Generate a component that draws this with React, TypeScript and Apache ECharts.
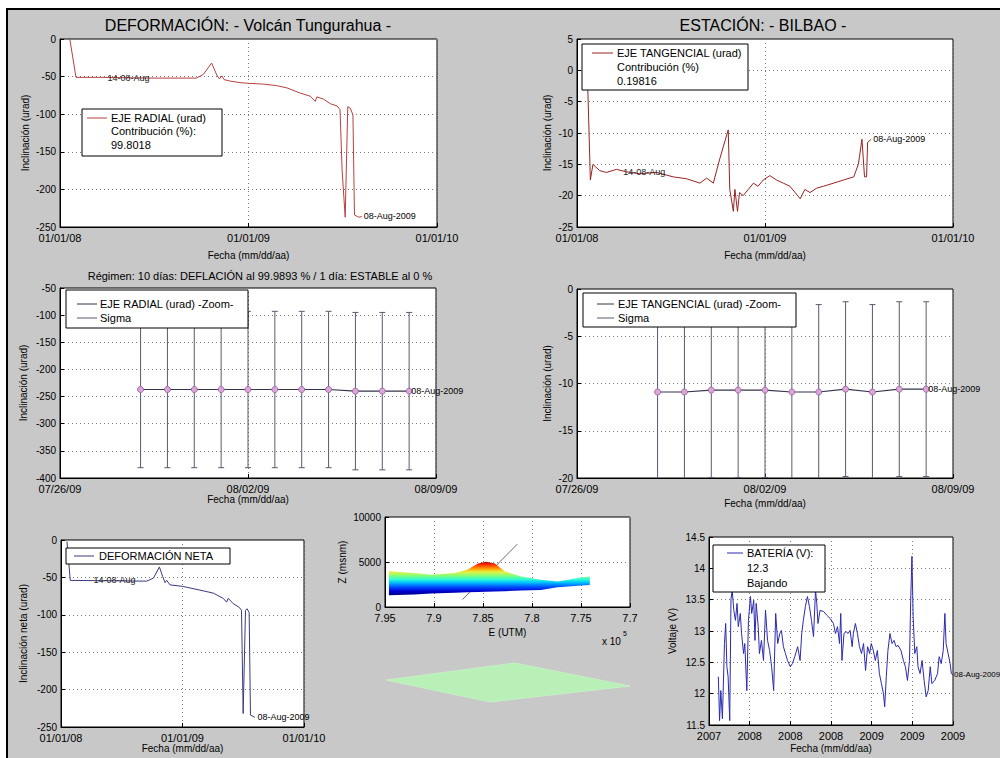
import React, { useEffect, useRef } from "react";
import * as echarts from "echarts";

const FONT = "'Liberation Sans', Arial, Helvetica, sans-serif";
const DAY = 86400000;

// ---------- Top-left: EJE RADIAL (urad) ----------
const radialDates = ["2008-01-20","2008-02-01","2008-03-19","2008-06-24","2008-09-22","2008-10-05","2008-10-21","2008-10-31","2008-11-05","2008-11-10","2008-11-14","2008-11-26","2008-12-15","2009-01-01","2009-01-30","2009-02-24","2009-03-16","2009-04-11","2009-04-30","2009-05-10","2009-05-13","2009-05-26","2009-06-08","2009-06-21","2009-06-27","2009-07-01","2009-07-07","2009-07-12","2009-07-17","2009-07-22","2009-07-25","2009-08-02","2009-08-08"];
const radialValues = [0,-51,-51,-52,-52,-47,-32,-48,-53,-49,-54,-56,-58,-59,-60,-62,-65,-72,-76,-83,-77,-80,-86,-89,-94,-174,-237,-90,-92,-101,-234,-237,-236];

// ---------- Top-right: EJE TANGENCIAL (urad) ----------
const tangDates = ["2008-01-20","2008-01-27","2008-02-01","2008-02-14","2008-02-27","2008-03-18","2008-04-06","2008-05-02","2008-06-04","2008-07-06","2008-08-01","2008-08-27","2008-09-09","2008-09-22","2008-10-05","2008-10-21","2008-10-24","2008-10-28","2008-10-31","2008-11-03","2008-11-08","2008-11-12","2008-11-19","2008-11-29","2008-12-09","2008-12-18","2008-12-28","2009-01-10","2009-01-23","2009-02-05","2009-02-18","2009-02-28","2009-03-10","2009-03-19","2009-03-29","2009-04-11","2009-04-24","2009-05-14","2009-06-02","2009-06-22","2009-07-01","2009-07-08","2009-07-13","2009-07-17","2009-07-19","2009-07-26"];
const tangValues = [3,-17.5,-15,-16,-16.3,-15.8,-16.2,-16.5,-16.3,-17,-17.3,-18,-17.2,-18,-14,-9.5,-19,-21,-22.5,-19,-22.5,-19.5,-20,-19,-18,-18.5,-17.5,-16.8,-17.5,-18,-18.5,-19.5,-20.5,-19,-19.5,-18.8,-18.5,-18,-17.5,-17,-15,-11,-17,-17,-11.5,-11];

// ---------- Middle: zoom (last 11 days) ----------
const zoomDates = ["2009-07-29","2009-07-30","2009-07-31","2009-08-01","2009-08-02","2009-08-03","2009-08-04","2009-08-05","2009-08-06","2009-08-07","2009-08-08"];
const radialZoomValues = [-237,-237,-237,-237,-237,-237,-237,-237,-240,-240,-240];
const radialZoomSigma = [144,144,144,144,144,144,144,144,145,145,145];
const tangZoomValues = [-10.9,-10.9,-10.7,-10.7,-10.7,-10.9,-10.9,-10.6,-10.9,-10.6,-10.6];
const tangZoomSigma = [9.25,9.25,9.25,9.25,9.25,9.25,9.25,9.25,9.25,9.25,9.25];

// ---------- Bottom-left: DEFORMACIÓN NETA ----------
const netDates = ["2008-01-19","2008-01-29","2008-09-15","2008-10-05","2008-10-23","2008-11-02","2008-11-09","2008-11-14","2008-11-24","2009-01-01","2009-02-22","2009-04-03","2009-05-03","2009-05-13","2009-05-18","2009-06-02","2009-06-20","2009-06-27","2009-07-02","2009-07-09","2009-07-14","2009-07-20","2009-07-24","2009-08-06","2009-08-08"];
const netValues = [-2,-54,-55,-51,-36,-49,-57,-54,-60,-62,-67,-71,-78,-83,-78,-85,-90,-94,-232,-94,-92,-97,-234,-237,-237];

// ---------- Bottom-right: BATERÍA (V), days since 2007-12-17 ----------
const battDays = [23,26,29,33,38,41,44,47,51,54,57,61,65,69,72,77,80,85,88,93,97,102,105,110,113,116,121,124,129,134,139,144,149,154,159,164,169,174,178,183,188,193,200,205,211,218,224,228,232,237,242,247,252,257,262,265,268,273,282,290,298,306,311,316,321,324,327,332,337,342,347,352,355,360,365,370,375,380,385,390,395,399,404,409,414,419,424,429,432,436,440,445,450,455,460,465,472,478,483,488,493,496,499,502,506,511,514,519,524,529,534,539,544,548,555,562,566,571,576,580,583,588,593,596,600];
const battVolts = [12.27,11.57,12.05,11.6,12.8,13.12,12.43,12.27,11.57,13.5,13.65,13.33,13.17,13.44,13.07,13.28,12.96,12.64,12.8,12.05,13.17,13.55,13.28,13.49,12.85,13.44,13.07,12.64,12.85,12.53,13.33,12.85,12.69,12.43,12.05,13.28,12.8,12.96,13.01,12.75,12.64,12.53,12.43,12.48,12.59,12.75,12.53,12.96,13.17,13.39,13.55,13.39,13.17,12.91,13.65,13.44,13.12,13.33,13.31,13.25,13.2,13.12,12.96,13.07,12.8,13.28,12.53,12.96,12.99,12.96,13.01,12.75,12.96,13.12,12.96,12.75,12.64,12.8,12.37,12.75,12.64,12.8,12.69,12.53,12.69,12.32,12.16,12.0,11.79,12.27,12.69,12.96,12.8,12.85,12.75,12.77,12.69,12.53,12.43,12.21,12.53,13.49,14.19,13.23,12.64,12.75,12.43,12.32,12.53,12.21,11.95,12.05,12.43,12.16,12.21,12.32,12.59,12.48,12.69,13.28,12.8,12.64,12.48,12.32,12.3];

// ---------- Centre: volcano profile (E in 10^5 UTM, Z in msnm) ----------
const surfE = [7.946,7.92,7.903,7.879,7.866,7.855,7.847,7.838,7.828,7.811,7.791,7.774,7.753,7.741];
const surfBottom = [1300,1400,1500,1580,1630,1670,1700,1730,1760,1830,1880,2190,2350,2450];
const surfTop = [3960,3770,3580,3770,4150,4830,5020,4830,3960,3400,3020,2830,3210,3400];
const trackE = [7.871,7.815];
const trackZ = [830,6980];

const baseMain = "2008-01-01";
const baseZoom = "2009-07-26";
const baseBatt = "2007-12-17";

function dayOf(base: string, d: string) {
  return (Date.parse(d) - Date.parse(base)) / DAY;
}
function pad(n: number) {
  return n < 10 ? "0" + n : String(n);
}
function mdy(base: string) {
  return (v: number) => {
    const t = new Date(Date.parse(base) + Math.round(v) * DAY);
    return pad(t.getUTCMonth() + 1) + "/" + pad(t.getUTCDate()) + "/" + pad(t.getUTCFullYear() % 100);
  };
}
function yearOf(base: string) {
  return (v: number) => String(new Date(Date.parse(base) + v * DAY).getUTCFullYear());
}

const axisCommon: any = {
  nameLocation: "middle",
  nameTextStyle: { fontSize: 10, fontFamily: FONT, color: "#000" },
  axisLine: { show: true, onZero: false, lineStyle: { color: "#000", width: 1 } },
  axisTick: { show: true, inside: true, length: 4, lineStyle: { color: "#000" } },
  splitLine: { show: true, lineStyle: { color: "#7a7a7a", type: [1, 3], width: 1 } },
};

function xAx(gridIndex: number, min: number, max: number, interval: number, formatter: any, name: string, nameGap: number, extra: any = {}) {
  return {
    type: "value", gridIndex, min, max, interval, name, nameGap, ...axisCommon,
    axisLabel: { fontSize: 11, fontFamily: FONT, color: "#000", margin: 5, formatter, showMinLabel: true, showMaxLabel: true, hideOverlap: false },
    ...extra,
  };
}
function yAx(gridIndex: number, min: number, max: number, interval: number, name: string, nameGap: number) {
  return {
    type: "value", gridIndex, min, max, interval, name, nameGap, nameRotate: 90, ...axisCommon,
    axisLabel: { fontSize: 10, fontFamily: FONT, color: "#000", margin: 4, formatter: (v: number) => String(v), showMinLabel: true, showMaxLabel: true, hideOverlap: false },
  };
}

const endLbl = (text: string, size = 9) => ({ show: true, formatter: text, fontSize: size, fontFamily: FONT, color: "#000", distance: 2 });
const markTxt = (coord: number[], text: string) => ({
  symbol: "circle", symbolSize: 1, silent: true, itemStyle: { color: "rgba(0,0,0,0)" },
  data: [{ coord, label: { show: true, position: "right", distance: 0, formatter: text, fontSize: 9, fontFamily: FONT, color: "#222" } }],
});

function lineSeries(i: number, color: string, data: number[][], extra: any = {}) {
  return { type: "line", xAxisIndex: i, yAxisIndex: i, data, showSymbol: false, symbol: "none", silent: true, lineStyle: { color, width: 1 }, itemStyle: { color }, ...extra };
}

function errSeries(i: number, data: number[][]) {
  return {
    type: "custom", xAxisIndex: i, yAxisIndex: i, data, clip: true, silent: true, z: 2,
    encode: { x: 0, y: 1 },
    renderItem: (params: any, api: any) => {
      const x = api.value(0), y = api.value(1), s = api.value(2);
      const p1 = api.coord([x, y + s]);
      const p2 = api.coord([x, y - s]);
      const st = { stroke: "#5a5a70", lineWidth: 1 };
      return {
        type: "group",
        children: [
          { type: "line", shape: { x1: p1[0], y1: p1[1], x2: p2[0], y2: p2[1] }, style: st },
          { type: "line", shape: { x1: p1[0] - 3, y1: p1[1], x2: p1[0] + 3, y2: p1[1] }, style: st },
          { type: "line", shape: { x1: p2[0] - 3, y1: p2[1], x2: p2[0] + 3, y2: p2[1] }, style: st },
        ],
      };
    },
  };
}

function legendGroup(box: number[], sx: number[], tx: number, rows: { text: string; y: number; color?: string }[]) {
  const children: any[] = [
    { type: "rect", shape: { x: box[0], y: box[1], width: box[2], height: box[3] }, style: { fill: "#fff", stroke: "#000", lineWidth: 1 }, z: 100 },
  ];
  rows.forEach((r) => {
    if (r.color) children.push({ type: "line", shape: { x1: sx[0], y1: r.y, x2: sx[1], y2: r.y }, style: { stroke: r.color, lineWidth: 1 }, z: 101 });
    children.push({ type: "text", x: tx, y: r.y, style: { text: r.text, fontSize: 11, fontFamily: FONT, fill: "#000", verticalAlign: "middle" }, z: 101 });
  });
  return children;
}

function buildOption() {
  const gridBase = { show: true, backgroundColor: "#fff", borderColor: "#000", borderWidth: 1, containLabel: false };
  const grid = [
    { left: 60, top: 39, width: 377, height: 188 },
    { left: 577, top: 39, width: 376, height: 188 },
    { left: 60, top: 288, width: 376, height: 190 },
    { left: 577, top: 289, width: 376, height: 189 },
    { left: 61, top: 540, width: 243, height: 187 },
    { left: 385, top: 517, width: 245, height: 90 },
    { left: 709, top: 537, width: 244, height: 188 },
  ].map((g) => ({ ...gridBase, ...g }));

  const fmtMain = mdy(baseMain);
  const fmtZoom = mdy(baseZoom);
  const xAxis = [
    xAx(0, 0, 731, 365.5, fmtMain, "Fecha (mm/dd/aa)", 23),
    xAx(1, 0, 731, 365.5, fmtMain, "Fecha (mm/dd/aa)", 23),
    xAx(2, 0, 14, 7, fmtZoom, "Fecha (mm/dd/aa)", 15),
    xAx(3, 0, 14, 7, fmtZoom, "Fecha (mm/dd/aa)", 20),
    xAx(4, 0, 731, 365.5, fmtMain, "Fecha (mm/dd/aa)", 16),
    xAx(5, 7.7, 7.95, 0.05, (v: number) => String(+v.toFixed(2)), "E (UTM)", 20, { inverse: true }),
    xAx(6, 0, 600, 100, yearOf(baseBatt), "Fecha (mm/dd/aa)", 18),
  ];
  const yAxis = [
    yAx(0, -250, 0, 50, "Inclinación (urad)", 30),
    yAx(1, -25, 5, 5, "Inclinación (urad)", 25),
    yAx(2, -400, -50, 50, "Inclinación (urad)", 32),
    yAx(3, -20, 0, 5, "Inclinación (urad)", 25),
    yAx(4, -250, 0, 50, "Inclinación neta (urad)", 33),
    yAx(5, 0, 10000, 5000, "Z (msnm)", 38),
    yAx(6, 11.5, 14.5, 0.5, "Voltaje (V)", 32),
  ];

  const radialData = radialDates.map((d, i) => [dayOf(baseMain, d), radialValues[i]]);
  const tangData = tangDates.map((d, i) => [dayOf(baseMain, d), tangValues[i]]);
  const netData = netDates.map((d, i) => [dayOf(baseMain, d), netValues[i]]);
  const radZoom = zoomDates.map((d, i) => [dayOf(baseZoom, d), radialZoomValues[i], radialZoomSigma[i]]);
  const tanZoom = zoomDates.map((d, i) => [dayOf(baseZoom, d), tangZoomValues[i], tangZoomSigma[i]]);
  const battData = battDays.map((d, i) => [d, battVolts[i]]);
  const surfData = surfE.map((e, i) => [e, surfBottom[i], surfTop[i]]);
  const trackData = trackE.map((e, i) => [e, trackZ[i]]);

  const zoomLine = (i: number, data: number[][]) => ({
    type: "line", xAxisIndex: i, yAxisIndex: i, data: data.map((r) => [r[0], r[1]]), silent: true, z: 3,
    symbol: "circle", symbolSize: 6, showSymbol: true,
    itemStyle: { color: "#d8a8d8", borderColor: "#a868a8", borderWidth: 1 },
    lineStyle: { color: "#34344a", width: 1.2 },
    endLabel: endLbl("08-Aug-2009"),
  });

  const series: any[] = [
    lineSeries(0, "#b84040", radialData, { endLabel: endLbl("08-Aug-2009"), markPoint: markTxt([91, -52], "14-08-Aug") }),
    lineSeries(1, "#9a2222", tangData, { endLabel: endLbl("08-Aug-2009"), markPoint: markTxt([89, -16.2], "14-08-Aug") }),
    errSeries(2, radZoom),
    zoomLine(2, radZoom),
    errSeries(3, tanZoom),
    zoomLine(3, tanZoom),
    lineSeries(4, "#3a3a80", netData, { endLabel: endLbl("08-Aug-2009"), markPoint: markTxt([96, -53.5], "14-08-Aug") }),
    lineSeries(5, "#6a6a80", trackData, { z: 1 }),
    {
      type: "custom", xAxisIndex: 5, yAxisIndex: 5, data: surfData, silent: true, z: 2, clip: true,
      encode: { x: 0, y: [1, 2] },
      renderItem: (params: any, api: any) => {
        if (params.dataIndex !== 0) return null;
        const pts: number[][] = [];
        for (let i = 0; i < surfE.length; i++) pts.push(api.coord([surfE[i], surfTop[i]]));
        for (let i = surfE.length - 1; i >= 0; i--) pts.push(api.coord([surfE[i], surfBottom[i]]));
        return {
          type: "polygon",
          shape: { points: pts },
          style: {
            fill: new echarts.graphic.LinearGradient(0, 0, 0, 1, [
              { offset: 0, color: "#a00000" },
              { offset: 0.08, color: "#ff2a00" },
              { offset: 0.2, color: "#ff9a00" },
              { offset: 0.3, color: "#e8f040" },
              { offset: 0.4, color: "#90ff70" },
              { offset: 0.52, color: "#30ffd0" },
              { offset: 0.62, color: "#00c0ff" },
              { offset: 0.75, color: "#0050ff" },
              { offset: 0.88, color: "#0000d0" },
              { offset: 1, color: "#000080" },
            ]),
          },
        };
      },
    },
    lineSeries(6, "#2a2ab0", battData, { endLabel: { ...endLbl("08-Aug-2009", 8), distance: 1 } }),
  ];

  const graphic: any[] = [
    { type: "text", x: 248, y: 25, style: { text: "DEFORMACIÓN: - Volcán Tungurahua -", fontSize: 16, fontFamily: FONT, fill: "#000", align: "center", verticalAlign: "middle" } },
    { type: "text", x: 763, y: 25, style: { text: "ESTACIÓN: - BILBAO -", fontSize: 16, fontFamily: FONT, fill: "#000", align: "center", verticalAlign: "middle" } },
    { type: "text", x: 260, y: 276, style: { text: "Régimen: 10 días: DEFLACIÓN al 99.9893 % / 1 día: ESTABLE al 0 %", fontSize: 11, fontFamily: FONT, fill: "#000", align: "center", verticalAlign: "middle" } },
    { type: "text", x: 602, y: 641, style: { text: "x 10", fontSize: 10, fontFamily: FONT, fill: "#000", verticalAlign: "middle" } },
    { type: "text", x: 623, y: 633, style: { text: "5", fontSize: 7, fontFamily: FONT, fill: "#000", verticalAlign: "middle" } },
    { type: "polygon", shape: { points: [[386, 680], [515, 663], [630, 686], [490, 702]] }, style: { fill: "#b8f0b8", stroke: "#c4f0c4", lineWidth: 1 } },
    ...legendGroup([82, 109, 140, 47], [87, 107], 111, [
      { text: "EJE RADIAL (urad)", y: 118, color: "#b84040" },
      { text: "Contribución (%):", y: 131 },
      { text: "99.8018", y: 145 },
    ]),
    ...legendGroup([582, 44, 166, 46], [592, 613], 617, [
      { text: "EJE TANGENCIAL (urad)", y: 53, color: "#9a2222" },
      { text: "Contribución (%)", y: 67 },
      { text: "0.19816", y: 81 },
    ]),
    ...legendGroup([66, 290, 182, 38], [77, 97], 100, [
      { text: "EJE RADIAL (urad) -Zoom-", y: 304, color: "#34344a" },
      { text: "Sigma", y: 318, color: "#5a5a70" },
    ]),
    ...legendGroup([583, 293, 213, 34], [597, 614], 618, [
      { text: "EJE TANGENCIAL (urad) -Zoom-", y: 304, color: "#34344a" },
      { text: "Sigma", y: 318, color: "#5a5a70" },
    ]),
    ...legendGroup([66, 548, 164, 16], [74, 94], 99, [
      { text: "DEFORMACIÓN NETA", y: 556, color: "#3a3a80" },
    ]),
    ...legendGroup([713, 545, 112, 47], [727, 743], 747, [
      { text: "BATERÍA (V):", y: 553, color: "#2a2ab0" },
      { text: "12.3", y: 568 },
      { text: "Bajando", y: 583 },
    ]),
  ];

  return {
    animation: false,
    textStyle: { fontFamily: FONT },
    grid,
    xAxis,
    yAxis,
    series,
    graphic,
  };
}

export default function App() {
  const ref = useRef<HTMLDivElement>(null);
  useEffect(() => {
    if (!ref.current) return;
    const chart = echarts.init(ref.current, null, { renderer: "svg" });
    chart.setOption(buildOption() as any);
    return () => chart.dispose();
  }, []);
  return (
    <div style={{ position: "fixed", left: 0, top: 0, width: 1000, height: 758, background: "#fff", overflow: "hidden" }}>
      <div style={{ position: "absolute", left: 6, top: 8, width: 994, height: 750, background: "#c8c8c8", borderTop: "2px solid #000", borderLeft: "2px solid #000", boxSizing: "border-box" }} />
      <div ref={ref} style={{ position: "absolute", left: 0, top: 0, width: 1000, height: 758 }} />
    </div>
  );
}
